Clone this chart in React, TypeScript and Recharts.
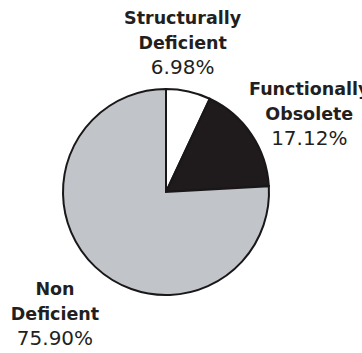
import React from "react";
import { PieChart, Pie, Cell } from "recharts";

// Bridge condition shares (percent of total)
const categories = ["Structurally Deficient", "Functionally Obsolete", "Non Deficient"];
const shares = [6.98, 17.12, 75.9];
const sliceColors = ["#ffffff", "#1f1b1c", "#c1c4c9"];

// Small per-label nudges away from the plain polar position
const labelNudge = [
  { dx: -16, dy: 3 },
  { dx: 19, dy: 12 },
  { dx: -8, dy: 19 },
];

const data = categories.map((name, i) => ({ name, value: shares[i] }));

const RAD = Math.PI / 180;
const FONT = "'DejaVu Sans', Verdana, sans-serif";

const renderLabel = (props: any) => {
  const { cx, cy, midAngle, index, name, value } = props;
  const r = 150;
  const x = cx + r * Math.cos(-midAngle * RAD) + labelNudge[index].dx;
  const y = cy + r * Math.sin(-midAngle * RAD) + labelNudge[index].dy;
  const words = String(name).split(" ");
  return (
    <text x={x} y={y} textAnchor="middle" fill="#231f20" fontFamily={FONT}>
      <tspan x={x} y={y - 25} fontWeight="bold" fontSize={17.5}>
        {words[0]}
      </tspan>
      <tspan x={x} y={y} fontWeight="bold" fontSize={17.5}>
        {words.slice(1).join(" ")}
      </tspan>
      <tspan x={x} y={y + 25} fontSize={20}>
        {Number(value).toFixed(2)}%
      </tspan>
    </text>
  );
};

export default function App() {
  return (
    <div style={{ position: "absolute", left: 0, top: 0, width: 362, height: 353, background: "#fff" }}>
      <PieChart width={362} height={353} margin={{ top: 0, right: 0, bottom: 0, left: 0 }}>
        <Pie
          data={data}
          dataKey="value"
          nameKey="name"
          cx={166}
          cy={192}
          outerRadius={103}
          startAngle={90}
          endAngle={-270}
          stroke="#1a1718"
          strokeWidth={2}
          label={renderLabel}
          labelLine={false}
          isAnimationActive={false}
        >
          {data.map((d, i) => (
            <Cell key={d.name} fill={sliceColors[i]} />
          ))}
        </Pie>
      </PieChart>
    </div>
  );
}
